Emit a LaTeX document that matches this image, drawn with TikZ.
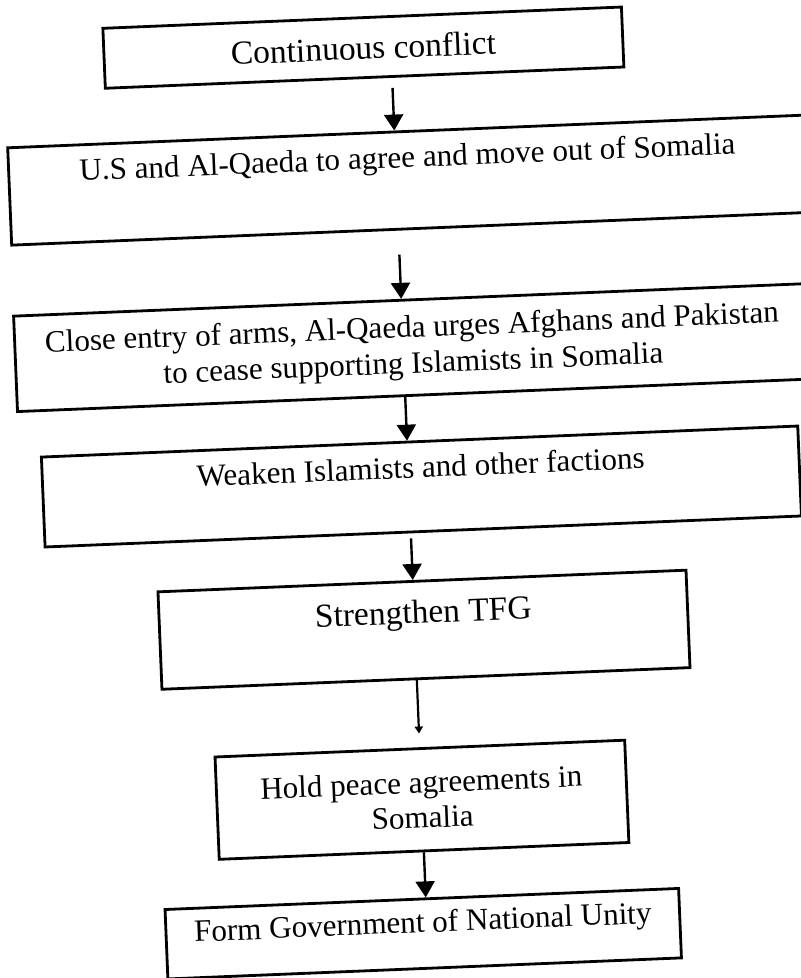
\documentclass[tikz,border=0pt]{standalone}
\usepackage{fontspec}
\setmainfont{Liberation Serif}
\usetikzlibrary{arrows.meta,calc}

\tikzset{
    flowbox/.style={draw, line width=2.8pt, inner sep=0pt, align=center,
        font=\fontsize{31.1}{36}\selectfont},
    bigtext/.style={font=\fontsize{33.5}{40}\selectfont},
    toptext/.style 2 args={text height=#1, text depth=#2},
    flowline/.style={line width=2.4pt, -{Triangle[length=16pt,width=19pt]}},
    faintline/.style={line width=2.2pt, -{Triangle[length=7pt,width=8pt]}}
}

\begin{document}
\begin{tikzpicture}[x=1pt,y=1pt]
    \useasboundingbox (-400,-489) rectangle (401,489);
    \clip (-400,-489) rectangle (401,489);

    % the scanned page sits a little askew
    \begin{scope}[rotate=2.35, transform shape]
    \coordinate (axis) at (9,0);

    % boxes, top to bottom
    \node[flowbox, bigtext, minimum width=519pt, minimum height=60pt] (conflict) at (-18.5,442.5) {Continuous conflict};
    \node[flowbox, toptext={36pt}{61.4pt}, minimum width=798pt] (agree) at (21,308.3) {U.S and Al-Qaeda to agree and move out of Somalia};
    \node[flowbox, minimum width=795pt, minimum height=95.5pt] (arms) at (18.5,140.8) {Close entry of arms, Al-Qaeda urges Afghans and Pakistan\\to cease supporting Islamists in Somalia};
    \node[flowbox, toptext={36pt}{54pt}, minimum width=757pt] (weaken) at (21.5,1.6) {Weaken Islamists and other factions};
    \node[flowbox, bigtext, toptext={42pt}{55.5pt}, minimum width=528.5pt] (tfg) at (18.2,-141.6) {Strengthen TFG};
    \node[flowbox, font=\fontsize{31.1}{35}\selectfont, minimum width=410pt, minimum height=102.4pt] (peace) at (9.2,-311.4) {Hold peace agreements in\\Somalia};
    \node[flowbox, toptext={33.5pt}{36pt}, minimum width=514pt] (unity) at (5,-445.3) {Form Government of National Unity};

    % arrows down the axis
    \draw[flowline, shorten <=10pt] ($(conflict.south west)!(axis)!(conflict.south east)$) -- ($(agree.north west)!(axis)!(agree.north east)$);
    \draw[flowline, shorten <=24pt] ($(agree.south west)!(axis)!(agree.south east)$) -- ($(arms.north west)!(axis)!(arms.north east)$);
    \draw[flowline] ($(arms.south west)!(axis)!(arms.south east)$) -- ($(weaken.north west)!(axis)!(weaken.north east)$);
    \draw[flowline, shorten <=5pt] ($(weaken.south west)!(axis)!(weaken.south east)$) -- ($(tfg.north west)!(axis)!(tfg.north east)$);
    \draw[faintline, shorten >=13.6pt] ($(tfg.south west)!(axis)!(tfg.south east)$) -- ($(peace.north west)!(axis)!(peace.north east)$);
    \draw[flowline] ($(peace.south west)!(axis)!(peace.south east)$) -- ($(unity.north west)!(axis)!(unity.north east)$);
    \end{scope}
\end{tikzpicture}
\end{document}
